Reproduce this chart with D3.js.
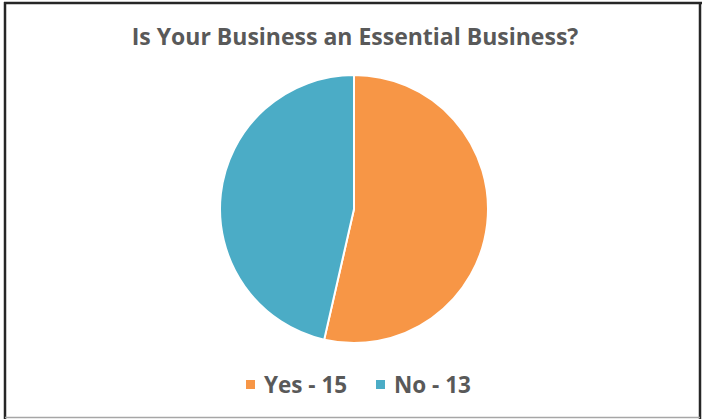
<!DOCTYPE html>
<html>
<head>
<meta charset="utf-8">
<script src="https://cdn.jsdelivr.net/npm/d3@7"></script>
<style>
  html, body { margin: 0; padding: 0; background: #ffffff; }
  svg { display: block; }
  text { font-family: "Open Sans", sans-serif; font-weight: 700; fill: #595959; }
</style>
</head>
<body>
<svg id="chart" width="704" height="419"></svg>
<script>
// Survey answers
const categories = ["Yes", "No"];
const counts = [15, 13];
const colors = ["#F79646", "#4BACC6"];
const title = "Is Your Business an Essential Business?";

const width = 704, height = 419;
const svg = d3.select("#chart");

// Chart frame
svg.append("rect")
  .attr("x", 0).attr("y", 0).attr("width", width).attr("height", height)
  .attr("fill", "#ffffff");
svg.append("line").attr("x1", 5).attr("x2", 5).attr("y1", 2).attr("y2", 419)
  .attr("stroke", "#262626").attr("stroke-width", 2.5);
svg.append("line").attr("x1", 4).attr("x2", 702).attr("y1", 3).attr("y2", 3)
  .attr("stroke", "#262626").attr("stroke-width", 2.5);
svg.append("line").attr("x1", 700).attr("x2", 700).attr("y1", 2).attr("y2", 419)
  .attr("stroke", "#262626").attr("stroke-width", 2.5);
svg.append("line").attr("x1", 5).attr("x2", 700).attr("y1", 417.5).attr("y2", 417.5)
  .attr("stroke", "#a6a6a6").attr("stroke-width", 1.5);

// Title
svg.append("text")
  .attr("x", 355).attr("y", 45)
  .attr("text-anchor", "middle")
  .style("font-size", "23px")
  .text(title);

// Pie
const data = categories.map((c, i) => ({ category: c, value: counts[i] }));
const color = d3.scaleOrdinal().domain(categories).range(colors);
const pie = d3.pie().value(d => d.value).sort(null);
const arc = d3.arc().innerRadius(0).outerRadius(134);

svg.append("g")
  .attr("transform", "translate(354,209)")
  .selectAll("path")
  .data(pie(data))
  .join("path")
  .attr("d", arc)
  .attr("fill", d => color(d.data.category))
  .attr("stroke", "#ffffff")
  .attr("stroke-width", 2);

// Legend
const legendItems = [
  { x: 246, label: `${categories[0]} - ${counts[0]}`, cat: categories[0] },
  { x: 376, label: `${categories[1]} - ${counts[1]}`, cat: categories[1] }
];
const legend = svg.append("g");
legendItems.forEach(item => {
  legend.append("rect")
    .attr("x", item.x).attr("y", 380)
    .attr("width", 9).attr("height", 9)
    .attr("fill", color(item.cat));
  legend.append("text")
    .attr("x", item.x + 18).attr("y", 393)
    .style("font-size", "22.5px")
    .text(item.label);
});
</script>
</body>
</html>
